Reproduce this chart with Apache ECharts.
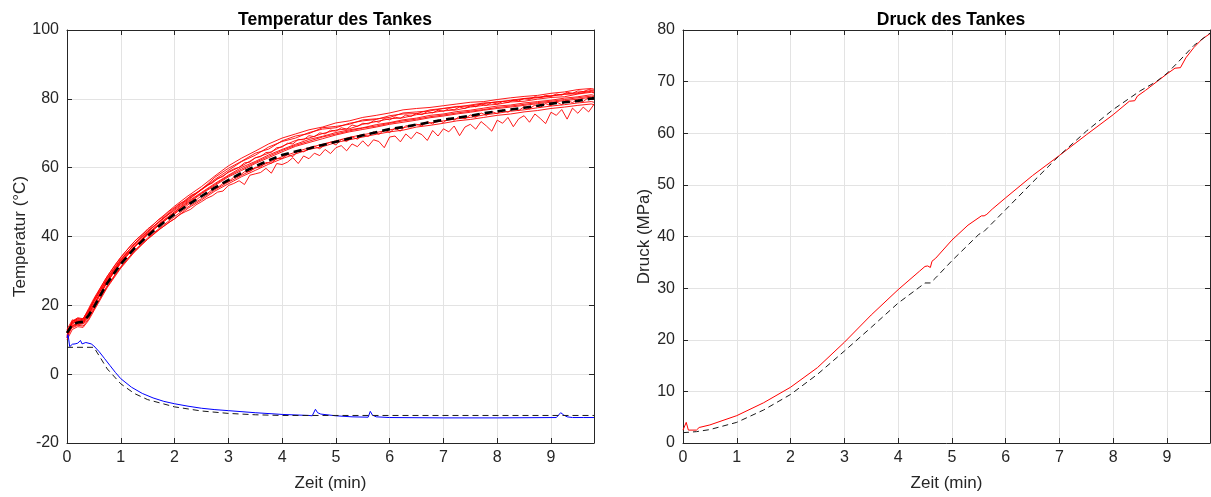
<!DOCTYPE html>
<html>
<head>
<meta charset="utf-8">
<script src="https://cdn.jsdelivr.net/npm/echarts@6/dist/echarts.min.js"></script>
<style>
  html, body { margin: 0; padding: 0; background: #ffffff; }
  #chart { width: 1211px; height: 497px; }
</style>
</head>
<body>
<div id="chart"></div>
<script>
// ---- Temperature panel: sample times (min) ----
const T_SMOOTH = [0, 0.1, 0.2, 0.3, 0.4, 0.5, 0.75, 1, 1.25, 1.5, 1.75, 2, 2.25, 2.5, 2.75, 3, 3.25, 3.5, 3.75, 4,
  4.25, 4.5, 4.75, 5, 5.25, 5.5, 5.75, 6, 6.25, 6.5, 6.75, 7, 7.25, 7.5, 7.75, 8, 8.25, 8.5, 8.75, 9, 9.25, 9.5, 9.75, 9.8];
// 0.1-min sampling grid for the noisier sensor traces
const T_FINE = Array.from({ length: 99 }, (_, i) => i / 10);

// Individual sensor temperatures (°C) on T_SMOOTH
const tempA = [11, 15.5, 16, 16, 19, 22, 28.5, 34, 38.5, 42, 45.5, 48.8, 51.8, 54.5, 57.6, 60.5, 62.8, 64.8, 66.9, 68.6, 69.8, 71.0, 71.8, 73.0, 73.6, 74.6, 75.2, 75.9, 76.8, 77.2, 77.5, 78.0, 78.5, 79.0, 79.2, 79.8, 80.3, 80.7, 81.0, 81.6, 82.0, 82.7, 83.0, 82.8];
const tempB = [12, 15, 15.8, 15.5, 18.2, 21, 27.8, 33.2, 37.8, 41.5, 44.6, 47.9, 50.8, 53.6, 56.2, 58.6, 60.5, 62.8, 64.2, 66.2, 67.9, 68.6, 69.9, 70.9, 71.3, 72.6, 73.4, 74.2, 74.5, 75.4, 75.9, 76.5, 76.8, 77.6, 78.1, 78.4, 79.1, 79.3, 79.9, 80.4, 80.6, 81.4, 81.9, 81.7];
const tempC = [10.5, 14.2, 14.8, 15.3, 17.6, 20.4, 27.2, 32.8, 37.2, 40.8, 44.2, 47.2, 50.2, 52.8, 55.4, 57.8, 60.1, 61.8, 63.7, 65.3, 66.8, 68.2, 69.1, 70.2, 71, 71.6, 72.5, 73.1, 73.9, 74.4, 75.2, 75.6, 76.3, 76.7, 77.3, 77.9, 78.2, 78.8, 79.2, 79.6, 80.2, 80.6, 81.2, 81];
const tempD = [13, 15.8, 15.2, 16.2, 18.5, 21.5, 28, 33.5, 37.6, 41.2, 44.9, 47.6, 50.5, 53.6, 56.6, 59.2, 61.8, 63.6, 66.0, 67.6, 68.6, 70.2, 71.2, 71.6, 72.9, 73.6, 74.0, 75.1, 75.6, 75.7, 76.8, 77.2, 77.6, 78.2, 78.8, 79.0, 79.6, 80.1, 80.5, 80.9, 81.4, 81.8, 82.4, 82.2];
const tempE = [11.5, 14, 14.6, 14.8, 16.8, 19.6, 26.8, 32.2, 36.8, 40.5, 43.8, 46.8, 49.6, 52.4, 54.8, 57.3, 59.2, 61.2, 62.9, 64.6, 66.2, 67.3, 68.4, 69.5, 70.4, 71.1, 71.8, 72.6, 73.2, 73.8, 74.5, 75, 75.6, 76.1, 76.7, 77.2, 77.6, 78.1, 78.6, 79, 79.5, 79.9, 80.5, 80.3];
const tempF = [12, 13.5, 14.2, 14, 16, 18.8, 25.8, 31.2, 35.8, 39.6, 42.8, 45.8, 48.6, 51, 53.6, 55.8, 57.8, 59.8, 61.5, 63.2, 64.5, 65.8, 66.8, 67.8, 68.8, 69.6, 70.2, 71, 71.6, 72.4, 73, 73.6, 74.2, 74.6, 75.3, 75.8, 76.4, 76.8, 77.4, 77.9, 78.3, 78.8, 79.2, 79];
const tempG = [10, 13, 13.8, 13.6, 15.6, 18.4, 25.2, 30.8, 35.4, 39.2, 42.4, 45.2, 48.2, 50.6, 53.2, 55.3, 57.4, 59.2, 61, 62.6, 64, 65.3, 66.1, 67.3, 68.1, 68.9, 69.7, 70.4, 70.9, 71.8, 72.3, 72.9, 73.6, 74, 74.6, 75.2, 75.6, 76.2, 76.6, 77.2, 77.6, 78.1, 78.5, 78.3];
const tempH = [12.5, 15.2, 16.2, 15.8, 18, 21.2, 27.5, 33, 37.9, 41.6, 44.8, 48.2, 51.2, 53.6, 57.2, 59.8, 61.9, 64.2, 65.4, 67.8, 69.2, 69.9, 71.6, 72.0, 72.6, 73.9, 74.2, 74.6, 75.9, 76.2, 76.5, 77.2, 77.8, 77.9, 78.6, 79.2, 79.4, 80.0, 80.3, 80.8, 81.3, 81.5, 82.2, 81.8];
const tempI = [11, 14.6, 15.4, 15, 17.2, 20, 27, 32.5, 36.9, 40.9, 44, 47.1, 49.9, 52.6, 55.1, 57.6, 59.6, 61.5, 63.3, 65, 66.5, 67.7, 68.9, 69.8, 70.7, 71.5, 72.1, 72.9, 73.6, 74.1, 74.8, 75.3, 75.9, 76.4, 76.9, 77.5, 77.9, 78.4, 78.9, 79.3, 79.8, 80.3, 80.8, 80.6];

// Noisier sensor temperatures (°C) on T_FINE
const tempN1 = [11, 13.8, 14.4, 14.6, 16.4, 19.0, 21.6, 24.2, 26.6, 28.9, 31.0, 33.0, 34.8, 36.4, 37.9, 39.3, 40.6, 41.9, 43.0, 44.2,
  45.1, 46.4, 47.2, 47.9, 49.2, 50.1, 51.1, 51.8, 52.9, 53.2, 54.8, 55.4, 56.2, 55.1, 57.8, 58.2, 58.6, 59.8, 58.4, 61.2,
  60.9, 61.6, 62.9, 61.2, 63.4, 62.6, 64.2, 63.5, 65.3, 64.1, 65.8, 66.4, 64.9, 66.9, 66.1, 67.8, 66.2, 68.1, 67.6, 65.8,
  68.9, 69.2, 67.5, 69.8, 68.4, 70.3, 69.6, 67.9, 70.8, 69.2, 71.3, 70.4, 72.1, 69.3, 71.8, 72.6, 71.2, 73.4, 72.1, 70.6,
  73.8, 72.9, 74.6, 71.9, 74.2, 75.1, 73.2, 75.6, 74.3, 72.8, 76.1, 75.2, 76.9, 74.1, 77.3, 75.8, 77.6, 76.2, 78.4];
const tempN2 = [12.5, 14.8, 15.6, 15.2, 17.6, 20.3, 23.0, 25.5, 28.0, 30.3, 32.4, 34.5, 36.1, 37.8, 39.0, 40.6, 41.8, 43.2, 44.3, 45.6,
  46.5, 47.8, 48.6, 49.8, 50.6, 51.8, 52.4, 53.6, 54.2, 55.4, 55.9, 57.2, 57.6, 58.8, 58.9, 60.1, 60.2, 61.5, 61.3, 62.6,
  62.7, 63.8, 63.2, 64.9, 64.6, 65.4, 66.2, 65.5, 66.8, 67.4, 66.6, 68.2, 67.6, 68.9, 68.3, 69.6, 69.1, 70.4, 69.7, 70.9,
  70.2, 71.5, 70.6, 72.2, 71.8, 72.6, 72.1, 73.4, 72.7, 73.9, 73.1, 74.4, 73.8, 74.9, 74.2, 75.3, 74.6, 75.9, 75.2, 76.3,
  75.7, 76.8, 76.1, 77.2, 76.6, 77.7, 77.1, 78.2, 77.5, 78.6, 78.0, 79.1, 78.3, 79.5, 78.9, 79.9, 79.2, 80.4, 80.0];
const tempN3 = [12, 15.4, 16.4, 16.1, 18.6, 21.6, 24.4, 27.2, 29.6, 31.9, 33.9, 35.8, 37.6, 39.3, 40.6, 42.2, 43.4, 44.9, 45.8, 47.3,
  48.4, 49.6, 50.3, 51.9, 52.6, 53.8, 54.9, 55.5, 56.9, 57.4, 58.8, 59.6, 60.1, 61.4, 61.6, 62.9, 63.2, 64.4, 64.5, 65.8,
  66.0, 67.1, 66.9, 68.2, 68.1, 69.3, 69.0, 70.1, 69.8, 70.9, 70.6, 71.6, 71.2, 72.4, 72.0, 72.9, 72.7, 73.6, 73.2, 74.2,
  73.9, 74.7, 74.3, 75.3, 74.9, 75.8, 75.4, 76.3, 75.9, 76.7, 76.4, 77.1, 76.8, 77.6, 77.2, 78.0, 77.7, 78.5, 78.1, 78.9,
  78.5, 79.2, 78.9, 79.7, 79.4, 80.1, 79.8, 80.6, 80.3, 81.0, 80.7, 81.4, 81.1, 81.9, 81.6, 82.3, 82.1, 82.7, 82.5];

// Mean tank temperature (°C) on T_SMOOTH
const tempMean = [12, 14.5, 15, 15.2, 17, 19.5, 26.5, 32, 36.5, 40.2, 43.5, 46.5, 49.2, 51.7, 54.2, 56.4, 58.5, 60.4, 62.1, 63.7,
  64.7, 65.6, 66.6, 67.5, 68.5, 69.4, 70.3, 71.2, 71.8, 72.5, 73.2, 73.9, 74.5, 75.1, 75.8, 76.4, 76.9, 77.4, 78, 78.6, 79, 79.4, 80.1, 80.2];

// Gas inlet temperature (°C)
const T_INLET = [0, 0.02, 0.05, 0.1, 0.15, 0.2, 0.25, 0.28, 0.35, 0.45, 0.5, 0.6, 0.7, 0.8, 0.9, 1.0, 1.2, 1.4, 1.6, 1.8, 2.0, 2.25, 2.5, 2.75,
  3.0, 3.5, 4.0, 4.5, 4.56, 4.62, 4.66, 4.72, 5.0, 5.3, 5.6, 5.64, 5.68, 5.75, 6.0, 7.0, 8.0, 9.1, 9.18, 9.24, 9.3, 9.4, 9.6, 9.8];
const inletTemp = [10.5, 11.5, 8, 8.7, 8.8, 9, 9.8, 8.8, 9.2, 8.8, 8.2, 6.5, 4.5, 2.5, 0.5, -1.3, -3.8, -5.6, -6.9, -7.9, -8.6, -9.3, -9.9, -10.3,
  -10.6, -11.2, -11.7, -12.0, -12.1, -10.2, -11.2, -11.6, -12.1, -12.4, -12.5, -10.8, -11.9, -12.4, -12.6, -12.7, -12.7, -12.6, -11.2, -11.9, -12.4, -12.6, -12.6, -12.6];
const T_INLET_REF = [0, 0.5, 0.75, 1.0, 1.25, 1.5, 2.0, 2.5, 3.0, 3.5, 4.0, 5.0, 9.8];
const inletRef = [7.8, 7.8, 1.5, -2.8, -5.6, -7.4, -9.5, -10.7, -11.4, -11.8, -12.0, -12.0, -12.0];

// ---- Pressure panel ----
const T_PRESS = [0, 0.03, 0.06, 0.1, 0.25, 0.3, 0.33, 0.5, 1.0, 1.5, 2.0, 2.5, 3.0, 3.5, 4.0, 4.4, 4.5, 4.55, 4.6, 4.63, 4.7, 5.0, 5.3, 5.55,
  5.6, 5.65, 5.75, 6.0, 6.5, 7.0, 7.5, 8.0, 8.3, 8.4, 8.45, 8.6, 9.0, 9.15, 9.25, 9.35, 9.5, 9.65, 9.8];
const pressure = [2.5, 2.5, 4.0, 2.5, 2.5, 3.0, 2.7, 3.5, 5.3, 7.8, 10.8, 14.6, 19.5, 24.8, 29.7, 33.3, 34.2, 34.3, 34.0, 35.2, 35.8, 39.3, 42.2, 44.0,
  44.0, 44.3, 45.3, 47.5, 51.8, 55.7, 59.7, 63.6, 66.2, 66.3, 67.2, 68.3, 71.5, 72.6, 72.7, 74.6, 76.6, 78.2, 79.3];
const T_PRESS_REF = [0, 0.25, 0.5, 1, 1.5, 2, 2.5, 3, 3.5, 4, 4.4, 4.5, 4.6, 4.7, 5, 5.5, 5.6, 6, 6.5, 7, 7.5, 8, 8.5, 8.8, 9, 9.2, 9.5, 9.8];
const pressureRef = [2.0, 2.2, 2.6, 4.0, 6.4, 9.4, 13.3, 17.8, 22.4, 27.1, 30.2, 31.0, 31.0, 32.0, 35.3, 40.4, 41.0, 45.2, 50.5, 55.7, 60.4, 64.6, 68.2, 70.0, 71.6, 73.7, 77.0, 79.4];

const X_TICKS = [0, 1, 2, 3, 4, 5, 6, 7, 8, 9];

// ---- helpers ----
const zip = (ts, vs) => ts.map((t, i) => [t, vs[i]]);
const FONT = 'Liberation Sans, Arial, Helvetica, sans-serif';
const INK = '#262626';

function lineSeries(ts, vs, grid, color, width, dash, z) {
  return {
    type: 'line', xAxisIndex: grid * 2, yAxisIndex: grid * 2,
    data: zip(ts, vs), showSymbol: false, symbol: 'none', silent: true,
    lineStyle: { color: color, width: width, type: dash || 'solid', cap: 'butt', join: 'round' },
    z: z || 2
  };
}

function mainX(grid) {
  return {
    type: 'value', gridIndex: grid, position: 'bottom', min: 0, max: 9.8, interval: 1,
    name: 'Zeit (min)', nameLocation: 'middle', nameGap: 32,
    nameTextStyle: { color: INK, fontFamily: FONT, fontSize: 17 },
    axisLine: { show: true, onZero: false, lineStyle: { color: INK, width: 1 } },
    axisTick: { show: true, inside: true, length: 5, lineStyle: { color: INK } },
    axisLabel: { color: INK, fontFamily: FONT, fontSize: 16, margin: 7, showMaxLabel: false,
      formatter: v => (X_TICKS.includes(v) ? String(v) : '') },
    splitLine: { show: true, lineStyle: { color: '#e3e3e3', width: 1 } }
  };
}
function topX(grid) {
  return {
    type: 'value', gridIndex: grid, position: 'top', min: 0, max: 9.8, interval: 1,
    axisLine: { show: true, onZero: false, lineStyle: { color: INK, width: 1 } },
    axisTick: { show: true, inside: true, length: 5, lineStyle: { color: INK } },
    axisLabel: { show: false }, splitLine: { show: false }
  };
}
function mainY(grid, min, max, interval, name, gap) {
  return {
    type: 'value', gridIndex: grid, position: 'left', min: min, max: max, interval: interval,
    name: name, nameLocation: 'middle', nameGap: gap,
    nameTextStyle: { color: INK, fontFamily: FONT, fontSize: 17 },
    axisLine: { show: true, onZero: false, lineStyle: { color: INK, width: 1 } },
    axisTick: { show: true, inside: true, length: 5, lineStyle: { color: INK } },
    axisLabel: { color: INK, fontFamily: FONT, fontSize: 16, margin: 8 },
    splitLine: { show: true, lineStyle: { color: '#e3e3e3', width: 1 } }
  };
}
function rightY(grid, min, max, interval) {
  return {
    type: 'value', gridIndex: grid, position: 'right', min: min, max: max, interval: interval,
    axisLine: { show: true, onZero: false, lineStyle: { color: INK, width: 1 } },
    axisTick: { show: true, inside: true, length: 5, lineStyle: { color: INK } },
    axisLabel: { show: false }, splitLine: { show: false }
  };
}

const redSmooth = [tempA, tempB, tempC, tempD, tempE, tempF, tempG, tempH, tempI];
const series = [];
redSmooth.forEach(v => series.push(lineSeries(T_SMOOTH, v, 0, '#ff0000', 0.9)));
series.push(lineSeries(T_FINE, tempN3, 0, '#ff0000', 0.9));
series.push(lineSeries(T_FINE, tempN2, 0, '#ff0000', 0.9));
series.push(lineSeries(T_FINE, tempN1, 0, '#ff0000', 0.9));
series.push(lineSeries(T_SMOOTH, tempMean, 0, '#000000', 2.6, [8, 5], 5));
series.push(lineSeries(T_INLET, inletTemp, 0, '#0000ff', 1, 'solid', 3));
series.push(lineSeries(T_INLET_REF, inletRef, 0, '#1a1a1a', 1, [6, 4], 4));
series.push(lineSeries(T_PRESS, pressure, 1, '#ff0000', 1, 'solid', 3));
series.push(lineSeries(T_PRESS_REF, pressureRef, 1, '#1a1a1a', 1, [6, 4], 4));

const chart = echarts.init(document.getElementById('chart'), null, { renderer: 'canvas' });
chart.setOption({
  animation: false,
  backgroundColor: '#ffffff',
  title: [
    { text: 'Temperatur des Tankes', left: 330, top: 6, textAlign: 'center',
      textStyle: { fontFamily: FONT, fontSize: 17.5, fontWeight: 'bold', color: '#000' } },
    { text: 'Druck des Tankes', left: 946, top: 6, textAlign: 'center',
      textStyle: { fontFamily: FONT, fontSize: 17.5, fontWeight: 'bold', color: '#000' } }
  ],
  grid: [
    { left: 67, top: 30, width: 527, height: 416, containLabel: false },
    { left: 683, top: 30, width: 527, height: 416, containLabel: false }
  ],
  xAxis: [mainX(0), topX(0), mainX(1), topX(1)],
  yAxis: [
    mainY(0, -20, 100, 20, 'Temperatur (°C)', 37), rightY(0, -20, 100, 20),
    mainY(1, 0, 80, 10, 'Druck (MPa)', 29), rightY(1, 0, 80, 10)
  ],
  series: series
});
</script>
</body>
</html>
